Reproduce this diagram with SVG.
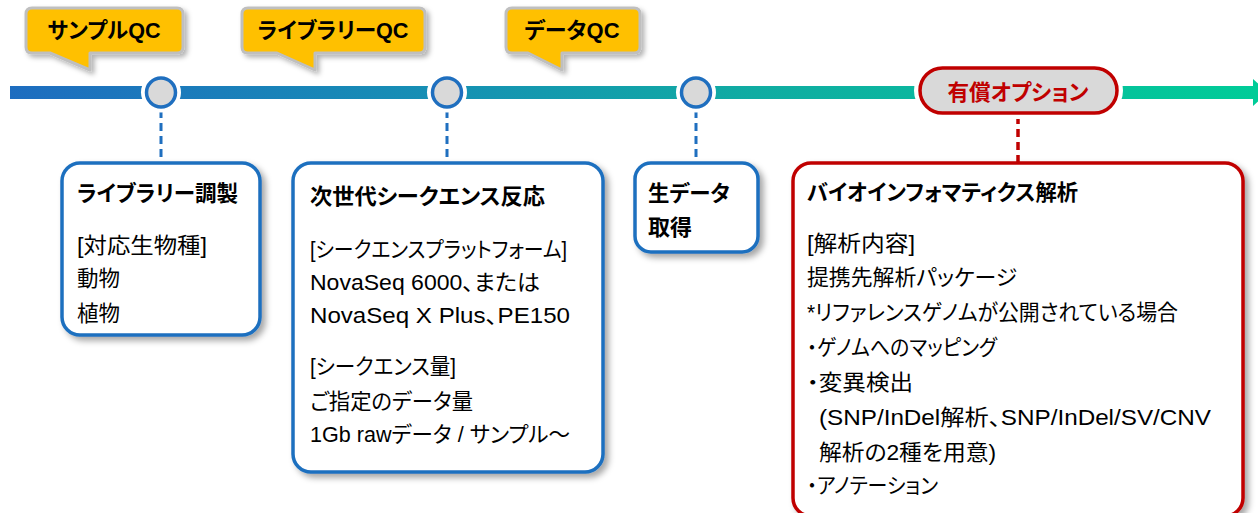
<svg xmlns="http://www.w3.org/2000/svg" width="1258" height="513" viewBox="0 0 1258 513">
<defs>
<linearGradient id="tl" x1="0" y1="0" x2="1258" y2="0" gradientUnits="userSpaceOnUse">
<stop offset="0" stop-color="#1e6cc0"/>
<stop offset="0.35" stop-color="#1690b4"/>
<stop offset="0.6" stop-color="#10aca2"/>
<stop offset="1" stop-color="#00cc98"/>
</linearGradient>
<filter id="sh" x="-10%" y="-10%" width="130%" height="130%">
<feDropShadow dx="4" dy="4" stdDeviation="3" flood-color="#000" flood-opacity="0.35"/>
</filter>
<filter id="sh2" x="-10%" y="-20%" width="130%" height="150%">
<feDropShadow dx="3" dy="3" stdDeviation="2.5" flood-color="#000" flood-opacity="0.3"/>
</filter>
</defs>
<style>
text{font-family:"Liberation Sans","Noto Sans CJK JP",sans-serif;font-feature-settings:"palt";fill:#000}
.t{font-size:22px;font-weight:bold}
.b{font-size:21.5px}
.q{font-size:22px;font-weight:bold;text-anchor:middle}
.callout{fill:#ffc000;stroke:#bfbfbf;stroke-width:3;stroke-linejoin:round}
.box{fill:#fff;stroke:#1f6fbf;stroke-width:3.5}
.rbox{fill:#fff;stroke:#c00000;stroke-width:3.5}
.node{fill:#d9d9d9;stroke:#1f6fbf;stroke-width:3.5}
.dash{stroke:#1f6fbf;stroke-width:3;stroke-dasharray:8 5;fill:none}
.rdash{stroke:#c00000;stroke-width:3.5;stroke-dasharray:8 5;fill:none}
</style>

<g id="timeline">
<line x1="10" y1="92.5" x2="1255" y2="92.5" stroke="url(#tl)" stroke-width="13"/>
<polygon points="1253,79 1268,92.5 1253,106" fill="#00cc98"/>
</g>

<g id="connectors">
<line class="dash" x1="161" y1="110" x2="161" y2="163"/>
<line class="dash" x1="447" y1="110" x2="447" y2="163"/>
<line class="dash" x1="696" y1="110" x2="696" y2="163"/>
<line class="rdash" x1="1018" y1="116" x2="1018" y2="163"/>
</g>

<g id="milestone1">
<circle cx="161" cy="92.5" r="20" fill="#fff"/>
<circle class="node" cx="161" cy="92.5" r="14.5"/>
</g>
<g id="milestone2">
<circle cx="447" cy="92.5" r="20" fill="#fff"/>
<circle class="node" cx="447" cy="92.5" r="14.5"/>
</g>
<g id="milestone3">
<circle cx="696" cy="92.5" r="20" fill="#fff"/>
<circle class="node" cx="696" cy="92.5" r="14.5"/>
</g>

<g id="callout-sample-qc">
<path class="callout" filter="url(#sh2)" d="M32,8 H177 Q183,8 183,14 V47 Q183,53 177,53 H90 V70 L50,53 H32 Q26,53 26,47 V14 Q26,8 32,8 Z"/>
<text class="q" x="104" y="38" textLength="113" lengthAdjust="spacingAndGlyphs">サンプルQC</text>
</g>
<g id="callout-library-qc">
<path class="callout" filter="url(#sh2)" d="M248,8 H419 Q425,8 425,14 V47 Q425,53 419,53 H315 V70 L277,53 H248 Q242,53 242,47 V14 Q242,8 248,8 Z"/>
<text class="q" x="333" y="38" textLength="151" lengthAdjust="spacingAndGlyphs">ライブラリーQC</text>
</g>
<g id="callout-data-qc">
<path class="callout" filter="url(#sh2)" d="M512,8 H634 Q640,8 640,14 V47 Q640,53 634,53 H562 V70 L528,53 H512 Q506,53 506,47 V14 Q506,8 512,8 Z"/>
<text class="q" x="572" y="38" textLength="95" lengthAdjust="spacingAndGlyphs">データQC</text>
</g>

<g id="paid-option">
<rect x="914" y="62" width="209" height="57" rx="28.5" fill="#fff"/>
<rect x="920" y="68" width="197" height="45" rx="22.5" fill="#d9d9d9" stroke="#c00000" stroke-width="3.5"/>
<text x="1018" y="100" font-size="22" font-weight="bold" text-anchor="middle" textLength="141" lengthAdjust="spacingAndGlyphs" style="fill:#c00000">有償オプション</text>
</g>

<g id="library-prep">
<rect class="box" filter="url(#sh)" x="62" y="163" width="198" height="172" rx="18"/>
<text class="t" x="77" y="201" textLength="161" lengthAdjust="spacingAndGlyphs">ライブラリー調製</text>
<text class="b" x="77" y="253" textLength="130" lengthAdjust="spacingAndGlyphs">[対応生物種]</text>
<text class="b" x="77" y="286">動物</text>
<text class="b" x="77" y="321">植物</text>
</g>

<g id="sequencing">
<rect class="box" filter="url(#sh)" x="293" y="163" width="310" height="309" rx="18"/>
<text class="t" x="310" y="204" textLength="235" lengthAdjust="spacingAndGlyphs">次世代シークエンス反応</text>
<text class="b" x="310" y="257" textLength="257" lengthAdjust="spacingAndGlyphs">[シークエンスプラットフォーム]</text>
<text class="b" x="310" y="290" textLength="230" lengthAdjust="spacingAndGlyphs">NovaSeq 6000、または</text>
<text class="b" x="310" y="323" textLength="260" lengthAdjust="spacingAndGlyphs">NovaSeq X Plus、PE150</text>
<text class="b" x="310" y="374" textLength="146" lengthAdjust="spacingAndGlyphs">[シークエンス量]</text>
<text class="b" x="310" y="409" textLength="163" lengthAdjust="spacingAndGlyphs">ご指定のデータ量</text>
<text class="b" x="310" y="442" textLength="260" lengthAdjust="spacingAndGlyphs">1Gb rawデータ / サンプル〜</text>
</g>

<g id="raw-data">
<rect class="box" filter="url(#sh)" x="635" y="163" width="123" height="89" rx="16"/>
<text class="t" x="648" y="201" textLength="82" lengthAdjust="spacingAndGlyphs">生データ</text>
<text class="t" x="648" y="235">取得</text>
</g>

<g id="bioinformatics">
<rect class="rbox" filter="url(#sh)" x="793" y="163" width="450" height="353" rx="18"/>
<text class="t" x="807" y="200" textLength="271" lengthAdjust="spacingAndGlyphs">バイオインフォマティクス解析</text>
<text class="b" x="807" y="251" textLength="108" lengthAdjust="spacingAndGlyphs">[解析内容]</text>
<text class="b" x="807" y="285" textLength="210" lengthAdjust="spacingAndGlyphs">提携先解析パッケージ</text>
<text class="b" x="807" y="320" textLength="371" lengthAdjust="spacingAndGlyphs">*リファレンスゲノムが公開されている場合</text>
<text class="b" x="807" y="355" textLength="190" lengthAdjust="spacingAndGlyphs">・ゲノムへのマッピング</text>
<text class="b" x="807" y="390" textLength="106" lengthAdjust="spacingAndGlyphs">・変異検出</text>
<text class="b" x="819" y="425" textLength="392" lengthAdjust="spacingAndGlyphs">(SNP/InDel解析、SNP/InDel/SV/CNV</text>
<text class="b" x="819" y="460" textLength="177" lengthAdjust="spacingAndGlyphs">解析の2種を用意)</text>
<text class="b" x="807" y="493" textLength="131" lengthAdjust="spacingAndGlyphs">・アノテーション</text>
</g>
</svg>
